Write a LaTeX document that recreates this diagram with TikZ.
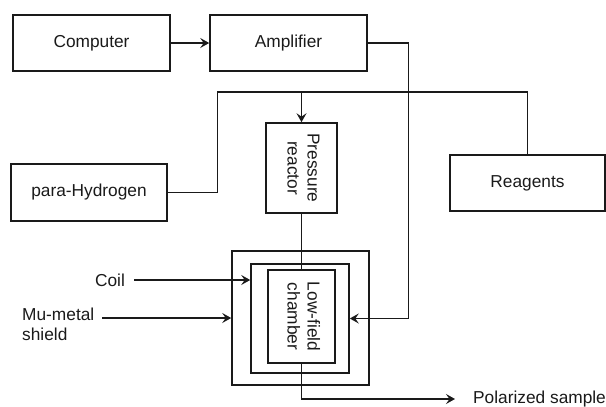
\documentclass[tikz,border=0pt]{standalone}
\usepackage{fontspec}
\setmainfont{Liberation Sans}
\usepackage{xcolor}
\usepackage{tikz}
\usetikzlibrary{arrows.meta, positioning, calc}
\definecolor{ink}{HTML}{1A1A1A}

\begin{document}
\begin{tikzpicture}[
      x=1pt, y=-1pt,
      >={Stealth[length=9pt, width=10pt, inset=3.5pt]},
      font=\fontsize{17.3}{20}\selectfont,
      blk/.style={draw=ink, line width=1.6pt, rectangle, inner sep=0pt, align=center, text=ink},
      rel/.style={->, draw=ink, line width=1.3pt},
      pipe/.style={draw=ink, line width=1.3pt},
      lbl/.style={inner sep=3pt, align=left, text=ink}]
    \useasboundingbox (0,0) rectangle (606,407);
    \node[blk, minimum width=157pt, minimum height=56pt] (comp) at (91.5,43) {Computer};
    \node[blk, minimum width=157pt, minimum height=56pt] (amp) at (288.5,43) {Amplifier};
    \node[blk, minimum width=156pt, minimum height=57pt] (ph) at (89,192.5) {para-Hydrogen};
    \node[blk, minimum width=71pt, minimum height=90pt] (press) at (301.5,168)
      {\rotatebox{-90}{\begin{tabular}{@{}c@{}}Pressure\\reactor\end{tabular}}};
    \node[blk, minimum width=155pt, minimum height=56pt] (reag) at (527.5,183) {Reagents};
    \node[blk, minimum width=137pt, minimum height=134pt] (shield) at (300.5,318) {};
    \node[blk, minimum width=98pt, minimum height=109pt] (coil) at (300,318.5) {};
    \node[blk, minimum width=67pt, minimum height=93pt] (chamber) at (301.5,316.5)
      {\rotatebox{-90}{\begin{tabular}{@{}c@{}}Low-field\\chamber\end{tabular}}};
    \node[lbl] (coillbl) at (110,280) {Coil};
    \node[lbl, anchor=north west] (mulbl) at (19,305) {Mu-metal\\shield};
    \node[lbl, anchor=west] (samp) at (470,399) {Polarized sample};
    \coordinate (feed) at (301.5,92);
    \draw[rel] (comp) -- (amp);
    \draw[rel] (amp.east) -- ++(41,0) |- (coil.east);
    \draw[pipe] (ph.east) -- ++(50,0) |- (reag.north |- feed) -- (reag.north);
    \draw[rel] (feed) -- (press.north);
    \draw[pipe] (press.south) -- (chamber.north);
    \draw[rel, shorten >=15pt] (chamber.south) |- (samp.west);
    \draw[rel, shorten <=6pt] (coillbl.east) -- (coillbl.east -| coil.west);
    \draw[rel, shorten <=5pt] (mulbl.east |- shield.west) -- (shield.west);
  \end{tikzpicture}
\end{document}
